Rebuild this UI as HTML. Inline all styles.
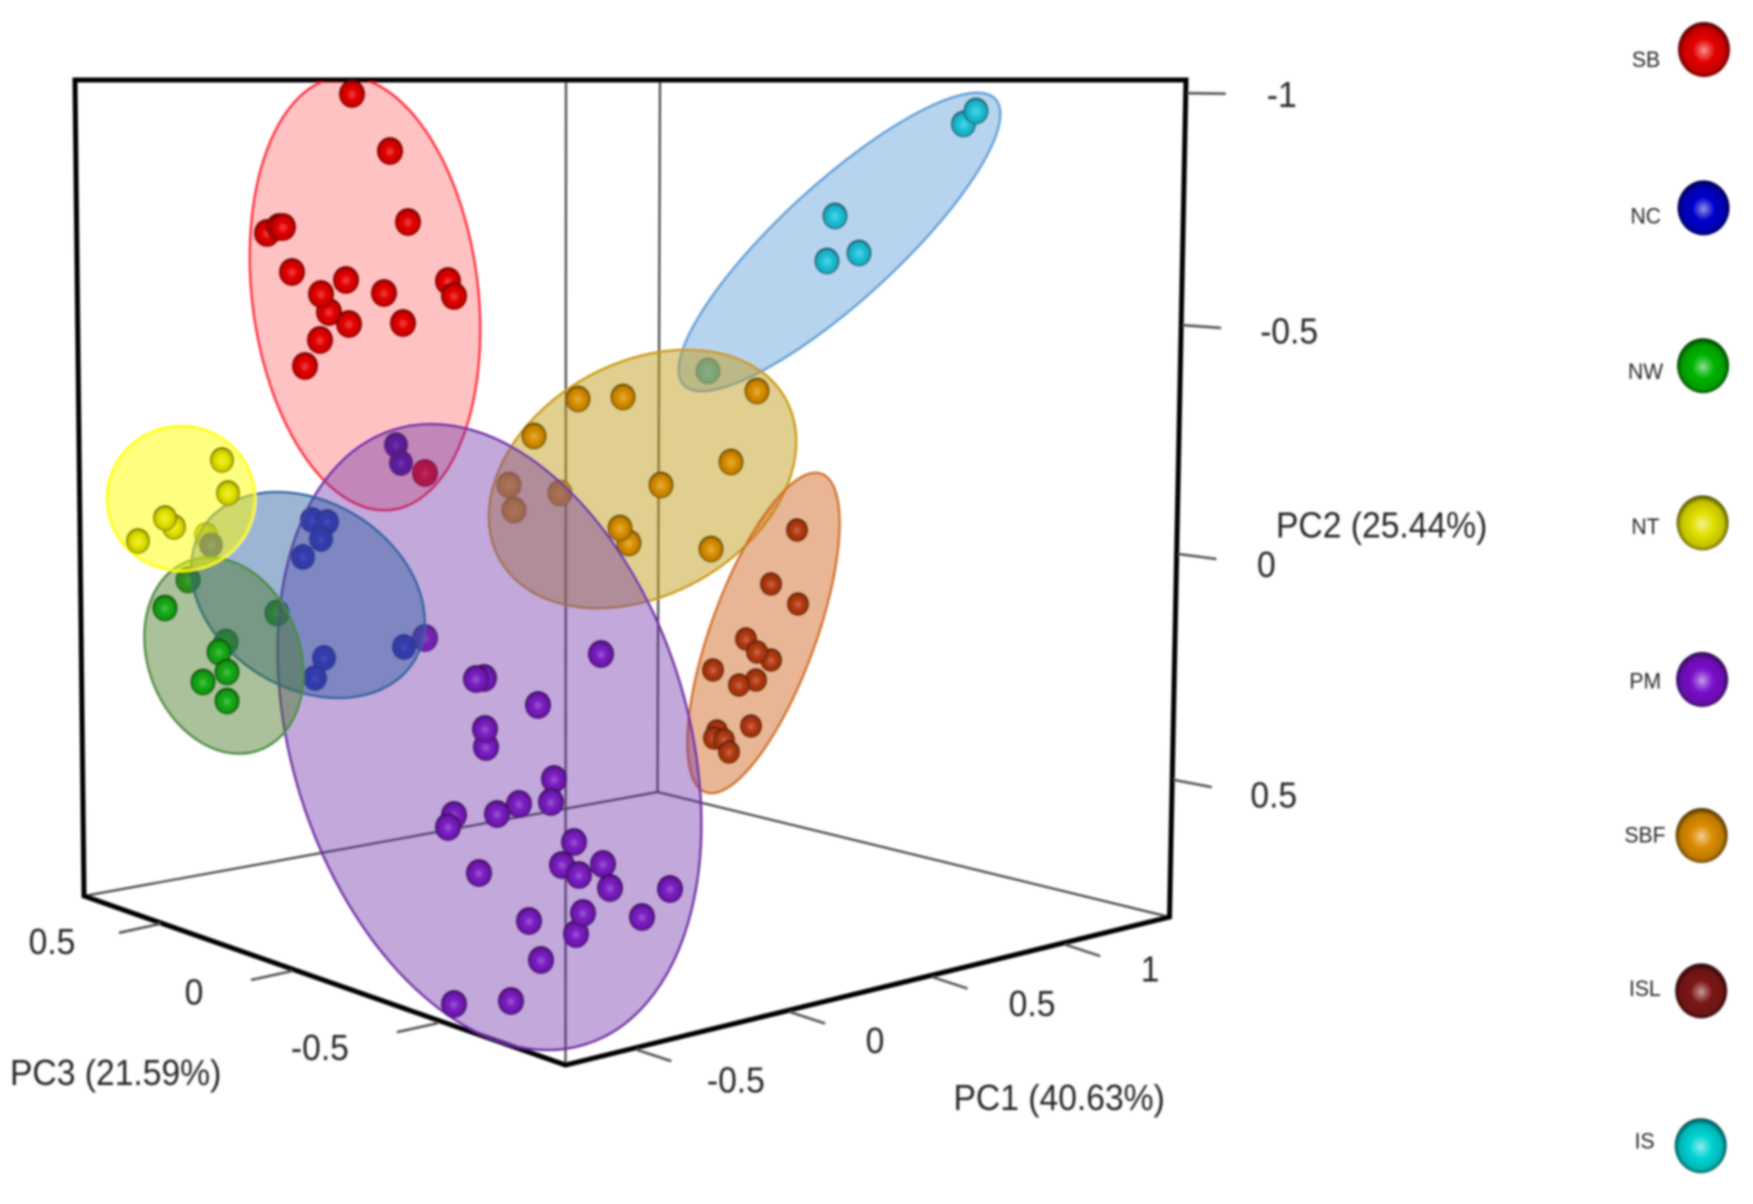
<!DOCTYPE html>
<html lang="en">
<head>
<meta charset="utf-8">
<title>3D PCA scatter plot</title>
<style>
html,body{margin:0;padding:0;background:#fff}
svg{display:block}
text{font-family:"Liberation Sans",sans-serif;fill:#262626}
</style>
</head>
<body>
<svg id="chart" xmlns="http://www.w3.org/2000/svg" width="1753" height="1204" viewBox="0 0 1753 1204">
<defs>
<filter id="soft" x="-2%" y="-2%" width="104%" height="104%"><feGaussianBlur stdDeviation="1"/></filter>
<clipPath id="frameClip"><rect x="0" y="82" width="1753" height="1122"/></clipPath>
</defs>
<g id="root" filter="url(#soft)">
<g id="back" fill="none" stroke="#444" stroke-width="2.2">
<line x1="566" y1="80" x2="565.5" y2="1065"/>
<line x1="660" y1="80" x2="657.5" y2="792"/>
<polyline points="84,896 657.5,792 1169.5,917"/>
</g>
<g id="frame" fill="none" stroke="#000" stroke-width="5" stroke-linejoin="miter">
<polygon points="75,80 1186,80 1169.5,917 565.5,1065 84,896"/>
</g>
<g id="ticks" stroke="#555" stroke-width="2.6"></g>
<g id="labels" font-size="36">
<text transform="translate(1276,537.5) scale(.935,1)">PC2 (25.44%)</text>
<text transform="translate(953.5,1110) scale(.935,1)">PC1 (40.63%)</text>
<text transform="translate(10,1085) scale(.935,1)">PC3 (21.59%)</text>
</g>
<g id="behind"></g>
<g id="ellipses" clip-path="url(#frameClip)"></g>
<g id="front"></g>
<g id="legend"></g>
</g>
</svg>
<script>
// Group names
const categories = ["SB", "NC", "NW", "NT", "PM", "SBF", "ISL", "IS"];

// Axis tick labels
const pc1Ticks = [-0.5, 0, 0.5, 1];
const pc2Ticks = [-1, -0.5, 0, 0.5];
const pc3Ticks = [-0.5, 0, 0.5];

// Projected sample scores: horizontal (U) and vertical (V)
const sbU = [-.290,-.436,-.360,-.324,-.606,-.582,-.574,-.556,-.448,-.482,-.498,-.372,-.442,-.334,-.500,-.530,-.244,-.232];
const sbV = [-.162,-.920,-.806,-.664,-.642,-.654,-.654,-.564,-.548,-.484,-.520,-.522,-.460,-.462,-.428,-.376,-.546,-.516];
const sbBehind = [0];

const ncU = [-.718,-.348,-.338,-.516,-.486,-.498,-.534,-.332,-.492,-.510];
const ncV = [-.018,-.218,-.182,-.068,-.064,-.030,.006,.186,.208,.248];
const ncBehind = [0,1,2,3,4,5,6,7,8,9];

const nwU = [-.764,-.586,-.688,-.810,-.702,-.686,-.734,-.686];
const nwV = [.052,.118,.176,.108,.196,.236,.256,.294];
const nwBehind = [0,1,2];

const ntU = [-.728,-.696,-.684,-.792,-.810,-.864];
const ntV = [-.038,-.188,-.122,-.054,-.072,-.026];
const ntBehind = [0];

const pmU = [-.290,.062,-.172,-.188,-.064,-.168,-.170,-.032,-.038,-.102,-.146,-.232,-.244,.008,-.016,.018,.066,.080,-.182,.200,.144,.012,.026,-.082,-.058,-.118,-.232];
const pmV = [.168,.200,.248,.250,.302,.386,.350,.450,.496,.500,.520,.522,.546,.576,.622,.642,.620,.668,.638,.670,.726,.760,.718,.734,.812,.894,.900];
const pmBehind = [0];

const sbfU = [-.122,-.112,-.020,.016,.106,.374,-.072,.322,.182,.118,.100,.282];
const sbfV = [-.138,-.088,-.122,-.310,-.314,-.326,-.236,-.184,-.138,-.022,-.052,-.010];
const sbfBehind = [0,1,2];

const islU = [.454,.402,.456,.352,.402,.374,.286,.372,.338,.362,.294,.288,.308,.318];
const islV = [-.048,.060,.100,.170,.212,.196,.232,.252,.262,.344,.354,.368,.372,.396];
const islBehind = [];

const isU = [.276,.787,.812,.530,.514,.578];
const isV = [-.366,-.860,-.886,-.676,-.586,-.602];
const isBehind = [0];

// Confidence ellipses: centre, radii (same units as scores), tilt in degrees
const ellipseCU = {SB:-.410, NC:-.524, NW:-.692, NT:-.778, PM:-.161, SBF:.145, ISL:.387, IS:.539};
const ellipseCV = {SB:-.521, NC:.082, NW:.203, NT:-.111, PM:.366, SBF:-.150, ISL:.158, IS:-.624};
const ellipseRU = {SB:.226, NC:.186, NW:.152, NT:.148, PM:.396, SBF:.232, ISL:.105, IS:.117};
const ellipseRV = {SB:.436, NC:.250, NW:.202, NT:.145, PM:.644, SBF:.328, ISL:.339, IS:.423};
const ellipseTilt = {SB:-7, NC:-57.9, NW:-21, NT:0, PM:-17.3, SBF:60.5, ISL:20, IS:47.5};

// Styling
const ballColor = {SB:"#e40000", NC:"#1616c4", NW:"#14aa14", NT:"#e6e600", PM:"#7a1cc2", SBF:"#da9000", ISL:"#b43a12", IS:"#1fc2da"};
const legendColor = {SB:"#e60000", NC:"#0000cc", NW:"#00b400", NT:"#e0e000", PM:"#7a12cc", SBF:"#dc8c00", ISL:"#7c1616", IS:"#00d4d4"};
const ballRadius = {SB:13, NC:12, NW:12.5, NT:12, PM:13, SBF:12.5, ISL:11, IS:12.5};
const ellipseFill = {SB:"rgba(255,0,0,.24)", NC:"rgba(40,90,160,.45)", NW:"rgba(70,120,40,.45)", NT:"rgba(255,255,0,.5)", PM:"rgba(110,50,170,.42)", SBF:"rgba(195,160,30,.5)", ISL:"rgba(210,110,40,.5)", IS:"rgba(90,155,215,.43)"};
const ellipseStroke = {SB:"#ff2030", NC:"#2a5f9e", NW:"#4a8a3a", NT:"#ffff00", PM:"#6a2ca0", SBF:"#c8980f", ISL:"#d06a28", IS:"#5b9bd5"};

const seriesU = {SB:sbU, NC:ncU, NW:nwU, NT:ntU, PM:pmU, SBF:sbfU, ISL:islU, IS:isU};
const seriesV = {SB:sbV, NC:ncV, NW:nwV, NT:ntV, PM:pmV, SBF:sbfV, ISL:islV, IS:isV};
const seriesBehind = {SB:sbBehind, NC:ncBehind, NW:nwBehind, NT:ntBehind, PM:pmBehind, SBF:sbfBehind, ISL:islBehind, IS:isBehind};

const NS = "http://www.w3.org/2000/svg";
function make(tag, parent, attrs) {
  const el = document.createElementNS(NS, tag);
  for (const k in attrs) el.setAttribute(k, attrs[k]);
  parent.appendChild(el);
  return el;
}
function mixHex(hex, other, t) {
  const a = [1,3,5].map(i => parseInt(hex.substr(i,2),16));
  return "rgb(" + a.map((c,i) => Math.round(c + (other[i]-c)*t)).join(",") + ")";
}

// Plot axis functions
function scaleU(u) { return 570 + 500*u; }
function scaleV(v) { return 554 + 500*v; }
function scaleLen(d) { return 500*d; }

function pc1Pos(t) { const d = 1 + .075*t; return [(790 + 355*t)/d, (1012 + 3.4*t)/d]; }
function pc2Pos(t) { const d = 1 + .0132*t; return [1178.4 - 9.3*t, (554 + 462*t)/d]; }
function pc3Pos(t) { const d = 1 + .1*t; return [(292 - 248*t)/d, (971 - 2*t)/d]; }

const defs = document.querySelector("#chart defs");
function addGradient(id, color, glow) {
  const g = make("radialGradient", defs, {id:id, cx:"50%", cy:"52%", r:"52%"});
  make("stop", g, {offset:"0%", "stop-color":mixHex(color,[255,255,255],glow)});
  make("stop", g, {offset:"14%", "stop-color":mixHex(color,[255,255,255],glow*.6)});
  make("stop", g, {offset:"40%", "stop-color":color});
  make("stop", g, {offset:"78%", "stop-color":mixHex(color,[0,0,0],.14)});
  make("stop", g, {offset:"100%", "stop-color":mixHex(color,[0,0,0],.7)});
}
categories.forEach(c => {
  addGradient("pt-" + c, ballColor[c], .28);
  addGradient("lg-" + c, legendColor[c], .6);
});

// Ticks and tick labels
const tickLayer = document.getElementById("ticks");
const labelLayer = document.getElementById("labels");
function addTick(axis, t, base, dx, dy, lx, ly) {
  const line = make("line", tickLayer, {x1:base[0], y1:base[1], x2:base[0]+dx, y2:base[1]+dy});
  
  
  const label = make("text", labelLayer, {"text-anchor":"middle", transform:"translate(" + (base[0]+lx) + "," + (base[1]+ly+13) + ") scale(.935,1)"});
  label.textContent = String(t);
  
  
}
pc2Ticks.forEach(t => {
  const b = pc2Pos(t), n = String(t).length;
  addTick("pc2", t, b, 38, 5 + 4.5*t, 88 + 6*(n-1), 10 + 9*t);
});
pc1Ticks.forEach(t => {
  const b = pc1Pos(t), n = String(t).length;
  addTick("pc1", t, b, 35, 11.5, n > 1 ? 99.5 : 85, 28 - 4*t);
});
pc3Ticks.forEach(t => {
  const b = pc3Pos(t), n = String(t).length;
  addTick("pc3", t, b, -41, 9, -(n > 1 ? 98 + 10*(n-2) : 98), 20.5 - 7*t);
});

// Points
function addPoint(layer, c, i) {
  const r = ballRadius[c];
  const p = make("ellipse", layer, {cx:scaleU(seriesU[c][i]), cy:scaleV(seriesV[c][i]), rx:r, ry:r*1.07, fill:"url(#pt-" + c + ")"});
  
  
}
const behindLayer = document.getElementById("behind");
const frontLayer = document.getElementById("front");
["SB","PM","NW","NT","SBF","ISL","IS","NC"].forEach(c => {
  seriesBehind[c].forEach(i => addPoint(behindLayer, c, i));
});
["SB","NC","NW","NT","PM","SBF","ISL","IS"].forEach(c => {
  seriesU[c].forEach((_, i) => {
    if (seriesBehind[c].indexOf(i) < 0) addPoint(frontLayer, c, i);
  });
});

// Ellipses
const ellipseLayer = document.getElementById("ellipses");
["IS","SBF","ISL","SB","PM","NC","NW","NT"].forEach(c => {
  const cx = scaleU(ellipseCU[c]), cy = scaleV(ellipseCV[c]);
  const e = make("ellipse", ellipseLayer, {
    cx:cx, cy:cy, rx:scaleLen(ellipseRU[c]), ry:scaleLen(ellipseRV[c]),
    transform:"rotate(" + ellipseTilt[c] + " " + cx + " " + cy + ")",
    fill:ellipseFill[c], stroke:ellipseStroke[c], "stroke-width":2.2
  });
  
  
});

// Legend
const legendLayer = document.getElementById("legend");
categories.forEach((c, i) => {
  const y = 49.5 + 158.7*i - .3*i*i, x = 1704 - .47*i;
  const entry = make("g", legendLayer, {});
  
  
  const ball = make("ellipse", entry, {cx:x, cy:y, rx:26, ry:27.5, fill:"url(#lg-" + c + ")"});
  
  
  const t = make("text", entry, {"text-anchor":"middle", "font-size":22, transform:"translate(" + (1646 - .2*i) + "," + (y + 9.5 - 2.1*i + 8) + ") scale(.96,1)"});
  t.textContent = c;
  
  
});
</script>
</body>
</html>
